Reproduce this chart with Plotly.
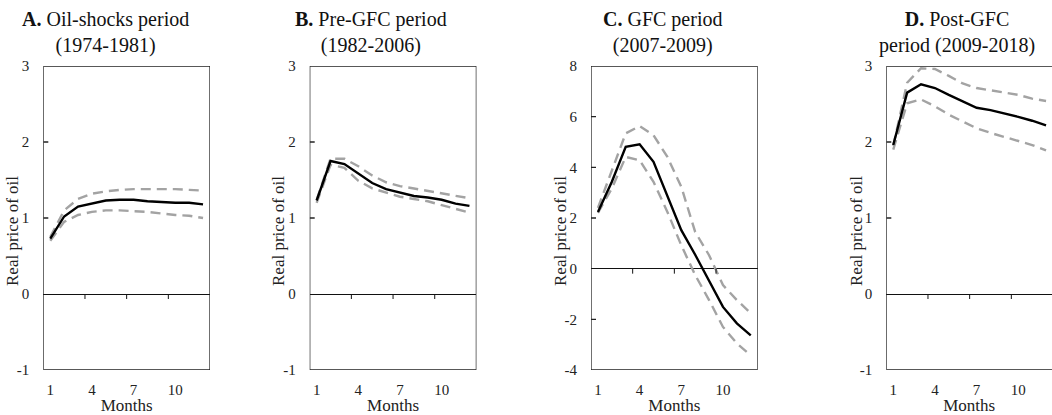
import plotly.graph_objects as go

W, H = 1052, 415
FONT = "Liberation Serif"

months = list(range(1, 13))
tick_months = [1, 4, 7, 10]

titles = ["<b>A.</b> Oil-shocks period<br>(1974-1981)",
          "<b>B.</b> Pre-GFC period<br>(1982-2006)",
          "<b>C.</b> GFC period<br>(2007-2009)",
          "<b>D.</b> Post-GFC<br>period (2009-2018)"]

a_irf = [0.73, 1.02, 1.15, 1.19, 1.23, 1.24, 1.24, 1.22, 1.21, 1.20, 1.20, 1.18]
a_hi = [0.75, 1.10, 1.25, 1.32, 1.35, 1.37, 1.38, 1.38, 1.38, 1.38, 1.37, 1.36]
a_lo = [0.70, 0.95, 1.04, 1.08, 1.10, 1.10, 1.09, 1.08, 1.06, 1.04, 1.03, 1.00]

b_irf = [1.23, 1.75, 1.71, 1.59, 1.46, 1.38, 1.33, 1.29, 1.27, 1.24, 1.19, 1.16]
b_hi = [1.24, 1.78, 1.78, 1.68, 1.56, 1.47, 1.42, 1.39, 1.36, 1.33, 1.30, 1.26]
b_lo = [1.20, 1.70, 1.66, 1.49, 1.39, 1.33, 1.28, 1.25, 1.22, 1.17, 1.12, 1.07]

c_irf = [2.24, 3.43, 4.81, 4.91, 4.22, 2.85, 1.52, 0.55, -0.48, -1.51, -2.16, -2.63]
c_hi = [2.40, 3.89, 5.34, 5.63, 5.27, 4.41, 3.23, 1.45, 0.53, -0.65, -1.24, -1.76]
c_lo = [2.20, 3.17, 4.41, 4.28, 3.43, 2.24, 0.92, -0.25, -1.24, -2.30, -2.95, -3.42]

d_irf = [1.96, 2.65, 2.76, 2.71, 2.62, 2.53, 2.45, 2.42, 2.38, 2.33, 2.28, 2.22]
d_hi = [1.95, 2.78, 2.97, 2.96, 2.87, 2.77, 2.71, 2.68, 2.64, 2.62, 2.57, 2.54]
d_lo = [1.90, 2.51, 2.56, 2.47, 2.36, 2.27, 2.18, 2.12, 2.07, 2.02, 1.96, 1.89]

y_ticks = [[-1, 0, 1, 2, 3], [-1, 0, 1, 2, 3], [-4, -2, 0, 2, 4, 6, 8], [-1, 0, 1, 2, 3]]
zero_tick_months = [3.5, 6.5, 9.5]
panels = [(a_irf, a_hi, a_lo), (b_irf, b_hi, b_lo), (c_irf, c_hi, c_lo), (d_irf, d_hi, d_lo)]

# layout geometry (pixels)
box_left = [43.3, 309.7, 591.0, 886.3]
box_w = 166.7
box_top, box_bot = 66, 370
title_cx = [105.5, 371, 662, 957.3]
ytitle_cx = [12, 278, 560, 856]
px_per_month = box_w / 12
box_h = box_bot - box_top

fig = go.Figure()
layout = dict(width=W, height=H, margin=dict(l=0, r=0, t=0, b=0, autoexpand=False),
              plot_bgcolor="white", showlegend=False,
              font=dict(family=FONT, color="#222"))
annotations = []
shapes = []
ydom = [(H - box_bot) / H, (H - box_top) / H]
FRAME = "#222222"
CLEAR = "rgba(0,0,0,0)"

for i, ((irf, hi, lo), yt) in enumerate(zip(panels, y_ticks)):
    n = i + 1
    xs = "" if n == 1 else str(n)
    right_px = min(box_left[i] + box_w, W)
    xr_end = 0.5 + (right_px - box_left[i]) / px_per_month
    xdom = [box_left[i] / W, right_px / W]
    ymin, ymax = yt[0], yt[-1]

    # plot frame and inward value-axis ticks, built from the axis ranges
    if i < 3:
        fx = [0.5, xr_end, xr_end, 0.5, 0.5]
        fy = [ymin, ymin, ymax, ymax, ymin]
    else:
        fx = [xr_end, 0.5, 0.5, xr_end]
        fy = [ymin, ymin, ymax, ymax]
    tick_len_x = 5 / px_per_month
    for v in yt[1:-1]:
        if v != 0:
            fx += [None, 0.5, 0.5 + tick_len_x]
            fy += [None, v, v]
    fig.add_trace(go.Scatter(x=fx, y=fy, mode="lines", xaxis="x" + xs, yaxis="y" + xs, cliponaxis=False,
                             line=dict(color=FRAME, width=1.3), hoverinfo="skip", connectgaps=False))

    for ys, col, dash in [(hi, "#a3a3a3", "10px,6px"), (lo, "#a3a3a3", "10px,6px"), (irf, "#000000", "solid")]:
        fig.add_trace(go.Scatter(x=months, y=ys, mode="lines", xaxis="x" + xs, yaxis="y" + xs,
                                 line=dict(color=col, width=2.4, dash=dash)))

    layout["xaxis" + xs] = dict(domain=xdom, range=[0.5, xr_end], anchor="y" + xs, automargin=False,
                                tickmode="array", tickvals=tick_months, ticktext=[str(m) for m in tick_months],
                                ticks="outside", ticklen=6, tickcolor=CLEAR,
                                gridcolor="white", zeroline=False, showline=False,
                                tickfont=dict(size=15, family=FONT, color="#222"),
                                title=dict(text="Months", font=dict(size=17, family=FONT, color="#222"), standoff=0))
    layout["yaxis" + xs] = dict(domain=ydom, range=[ymin, ymax], anchor="x" + xs, automargin=False,
                                tickmode="array", tickvals=yt, ticktext=[str(v) for v in yt],
                                ticks="outside", ticklen=10, tickcolor=CLEAR,
                                gridcolor="white", zeroline=True, zerolinecolor="#111111", zerolinewidth=1,
                                showline=False,
                                tickfont=dict(size=15, family=FONT, color="#222"))
    # small tick marks hanging below the zero line (category boundaries)
    zero_frac = (0 - ymin) / (ymax - ymin)
    for tm in zero_tick_months:
        shapes.append(dict(type="line", xref="x" + xs, yref="y" + xs + " domain",
                           x0=tm, x1=tm, y0=zero_frac, y1=zero_frac - 5 / box_h,
                           line=dict(color="#111111", width=1)))
    annotations.append(dict(text=titles[i], x=title_cx[i] / W, y=1 - 6 / H, xref="paper", yref="paper",
                            xanchor="center", yanchor="top", align="center", showarrow=False,
                            font=dict(size=20, family=FONT, color="#111")))
    annotations.append(dict(text="Real price of oil", x=ytitle_cx[i] / W, y=(H - 231) / H, xref="paper",
                            yref="paper", xanchor="center", yanchor="middle", textangle=-90, showarrow=False,
                            font=dict(size=17, family=FONT, color="#222")))

layout["annotations"] = annotations
layout["shapes"] = shapes
fig.update_layout(**layout)
fig.write_html("out.html")
